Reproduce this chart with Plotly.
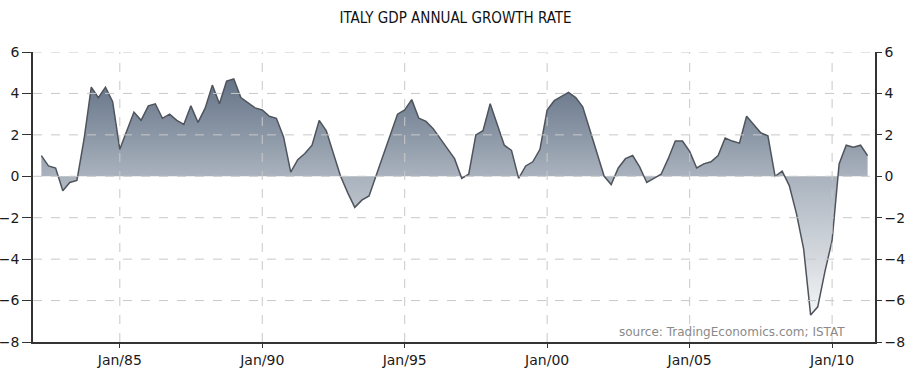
import pandas as pd
import plotly.graph_objects as go

# Quarterly year-on-year GDP growth (%), first quarter shown: Q2 1982
start_quarter = "1982-04-01"
growth = [
    1.0, 0.5, 0.4, -0.7, -0.3, -0.2, 1.8, 4.3, 3.8, 4.3, 3.6,
    1.3, 2.2, 3.1, 2.7, 3.4, 3.5, 2.8, 3.0, 2.7, 2.5, 3.4, 2.6, 3.3, 4.4, 3.5, 4.6, 4.7, 3.8, 3.55, 3.3,
    3.2, 2.9, 2.8, 1.9, 0.2, 0.8, 1.1, 1.5, 2.7, 2.2, 1.1, 0.0, -0.8, -1.5, -1.15, -0.95, 0.05, 1.0, 2.0, 3.0,
    3.2, 3.7, 2.8, 2.65, 2.3, 1.8, 1.3, 0.85, -0.1, 0.1, 2.0, 2.2, 3.5, 2.5, 1.5, 1.25, -0.1, 0.5, 0.7, 1.3,
    3.2, 3.65, 3.85, 4.05, 3.8, 3.35, 2.25, 1.1, 0.0, -0.4, 0.4, 0.85, 1.0, 0.45, -0.3, -0.1, 0.1, 0.85, 1.7, 1.7,
    1.2, 0.4, 0.6, 0.7, 1.0, 1.85, 1.7, 1.6, 2.9, 2.5, 2.1, 1.95, 0.0, 0.25, -0.45, -1.8, -3.5, -6.7, -6.3, -4.6,
    -3.1, 0.6, 1.5, 1.4, 1.5, 1.0,
]
dates = pd.date_range(start_quarter, periods=len(growth), freq="QS-JAN")

x_tick_dates = ["1985-01-01", "1990-01-01", "1995-01-01", "2000-01-01", "2005-01-01", "2010-01-01"]
x_tick_labels = ["Jan/85", "Jan/90", "Jan/95", "Jan/00", "Jan/05", "Jan/10"]
y_ticks = [-8, -6, -4, -2, 0, 2, 4, 6]
y_grid = [-6, -4, -2, 0, 2, 4, 6]

TICK_FONT = dict(family="DejaVu Sans, sans-serif", size=14, color="#1a1a1a")
GRID = dict(color="#c8c8c8", width=1, dash="dash")

fig = go.Figure()
fig.add_trace(go.Scatter(
    x=dates, y=growth, mode="lines",
    line=dict(color="#4f545c", width=1.5),
    fill="tozeroy",
    fillgradient=dict(type="vertical", start=-7, stop=4.7,
                      colorscale=[[0, "#f7f8f9"], [0.6, "#a9b2bd"], [1, "#647387"]]),
    showlegend=False, hoverinfo="x+y",
))
# invisible companion trace so the right-hand axis is drawn
fig.add_trace(go.Scatter(x=[dates[0]], y=[0], yaxis="y2", mode="markers",
                         marker=dict(opacity=0), showlegend=False, hoverinfo="skip"))

shapes = []
for v in y_grid:
    shapes.append(dict(type="line", xref="paper", x0=0, x1=1, yref="y", y0=v, y1=v,
                       line=GRID, layer="above"))
for d in x_tick_dates:
    shapes.append(dict(type="line", xref="x", x0=d, x1=d, yref="paper", y0=0, y1=1,
                       line=GRID, layer="above"))

fig.update_layout(
    width=911, height=378,
    margin=dict(l=33, r=36, t=52, b=36),
    paper_bgcolor="white", plot_bgcolor="white",
    title=dict(text="ITALY GDP ANNUAL GROWTH RATE", x=0.5, xanchor="center", y=0.953, yanchor="middle",
               font=dict(family="Liberation Sans Narrow, DejaVu Sans Condensed, sans-serif", size=15, color="#111111")),
    xaxis=dict(range=["1981-12-15", "2011-07-05"], tickvals=x_tick_dates, ticktext=x_tick_labels,
               showgrid=False, zeroline=False, showline=True, linecolor="#333333", linewidth=1.5,
               ticks="outside", ticklen=4, tickcolor="#333333", tickfont=TICK_FONT, automargin=False),
    yaxis=dict(range=[-8, 6], tickvals=y_ticks, showgrid=False, zeroline=False,
               showline=True, linecolor="#333333", linewidth=1.5, automargin=False,
               ticks="outside", ticklen=9, tickcolor="#333333", tickfont=TICK_FONT),
    yaxis2=dict(range=[-8, 6], tickvals=y_ticks, overlaying="y", side="right", showgrid=False,
                zeroline=False, showline=True, linecolor="#333333", linewidth=1.5, automargin=False,
                ticks="outside", ticklen=5, tickcolor="#333333", tickfont=TICK_FONT),
    shapes=shapes,
    annotations=[dict(text="source: TradingEconomics.com; ISTAT", xref="paper", yref="paper",
                      x=0.967, y=0.034, xanchor="right", yanchor="middle", showarrow=False,
                      font=dict(family="DejaVu Sans, sans-serif", size=12, color="#8a8a8a"))],
)

# remove the browser's default page margin so the figure sits at the window's corner
fig.write_html("out.html", config={"displayModeBar": False},
               post_script="document.body.style.margin='0';document.body.style.overflow='hidden';")
